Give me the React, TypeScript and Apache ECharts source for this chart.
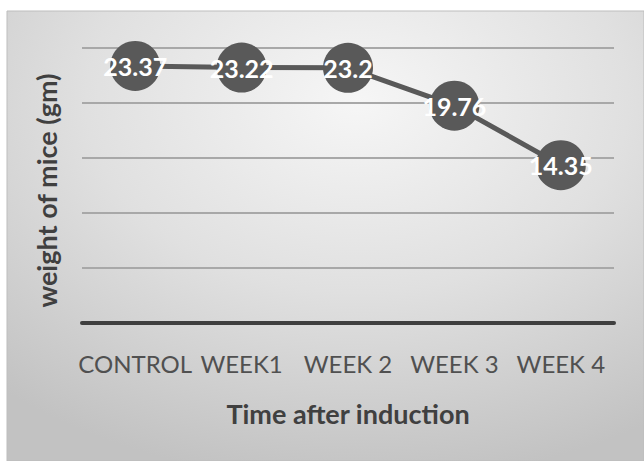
import React, { useEffect, useRef } from "react";
import * as echarts from "echarts";

const categories = ["CONTROL", "WEEK1", "WEEK 2", "WEEK 3", "WEEK 4"];
const weights = [23.37, 23.22, 23.2, 19.76, 14.35];
const yMin = 0;
const yMax = 25;
const yInterval = 5;

const FONT = "Lato, 'Open Sans', 'Noto Sans', sans-serif";

export default function App() {
  const ref = useRef<HTMLDivElement>(null);
  useEffect(() => {
    if (!ref.current) return;
    const chart = echarts.init(ref.current, undefined, { renderer: "svg" });
    chart.setOption({
      animation: false,
      backgroundColor: "#ffffff",
      graphic: [
        {
          type: "rect",
          z: -10,
          shape: { x: 7, y: 11, width: 637, height: 450 },
          style: {
            fill: new echarts.graphic.RadialGradient(0.55, 0.2, 0.85, [
              { offset: 0, color: "#f6f6f6" },
              { offset: 0.5, color: "#e0e0e0" },
              { offset: 1, color: "#c2c2c2" },
            ]),
            stroke: "#bdbdbd",
            lineWidth: 1,
          },
        },
      ],
      grid: { left: 82, right: 30, top: 48, bottom: 138 },
      xAxis: {
        type: "category",
        data: categories,
        boundaryGap: true,
        axisLine: { show: true, lineStyle: { color: "#3f3f3f", width: 4 } },
        axisTick: { show: false },
        axisLabel: {
          color: "#505050",
          fontFamily: FONT,
          fontSize: 24,
          margin: 28,
          interval: 0,
        },
        name: "Time after induction",
        nameLocation: "middle",
        nameGap: 77,
        nameTextStyle: {
          color: "#404040",
          fontFamily: FONT,
          fontWeight: "bold",
          fontSize: 27,
        },
      },
      yAxis: {
        type: "value",
        min: yMin,
        max: yMax,
        interval: yInterval,
        axisLine: { show: false },
        axisTick: { show: false },
        axisLabel: { show: false },
        splitLine: { show: true, lineStyle: { color: "#a8a8a8", width: 2 } },
        name: "weight of mice (gm)",
        nameLocation: "middle",
        nameGap: 22,
        nameTextStyle: {
          color: "#404040",
          fontFamily: FONT,
          fontWeight: "bold",
          fontSize: 27,
          padding: [0, 10, 0, 0],
        },
      },
      series: [
        {
          type: "line",
          data: weights,
          symbol: "circle",
          symbolSize: 50,
          itemStyle: { color: "#595959" },
          lineStyle: { color: "#595959", width: 5 },
          label: {
            show: true,
            position: "inside",
            color: "#ffffff",
            fontFamily: FONT,
            fontWeight: "bold",
            fontSize: 25,
          },
        },
      ],
    });
    return () => chart.dispose();
  }, []);
  return (
    <div
      ref={ref}
      style={{ position: "absolute", left: 0, top: 0, width: 644, height: 461 }}
    />
  );
}
